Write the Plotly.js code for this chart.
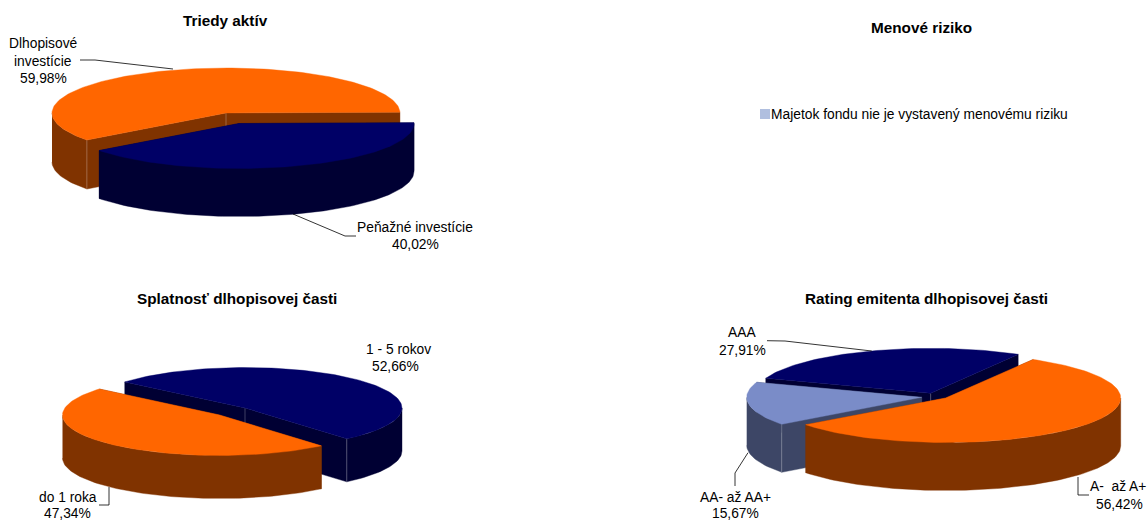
<!DOCTYPE html>
<html><head><meta charset="utf-8">
<script src="https://cdn.plot.ly/plotly-3.0.0.min.js"></script>
<style>html,body{margin:0;padding:0;background:#fff}#c{width:1147px;height:521px}</style>
</head><body><div id="c"></div>
<script>
// ---- data ----
const assetNames = ["Dlhopisové investície", "Peňažné investície"];
const assetValues = [59.98, 40.02];
const maturityNames = ["1 - 5 rokov", "do 1 roka"];
const maturityValues = [52.66, 47.34];
const ratingNames = ["A-\u00A0 až A+", "AAA", "AA- až AA+"];
const ratingValues = [56.42, 27.91, 15.67];
const currencyNote = "Majetok fondu nie je vystavený menovému riziku";
const titles = ["Triedy aktív", "Menové riziko", "Splatnosť dlhopisovej časti", "Rating emitenta dlhopisovej časti"];

// ---- styles ----
const ORANGE = {top:"#FF6600", side:"#803300"};
const NAVY   = {top:"#000066", side:"#000033"};
const PERI   = {top:"#7A8CC8", side:"#3D4666"};
const FONT = "Liberation Sans, Arial, sans-serif";
const SEAM = "rgba(255,255,255,0.35)";

// ---- geometry: angles run counter-clockwise from 3 o'clock, in screen space ----
const deg = Math.PI/180;
function pt(c, a, dy){ return [c.x + c.rx*Math.cos(a*deg), c.y - c.ry*Math.sin(a*deg) + (dy||0)]; }
function arc(c, a0, a1, dy){
  const n = Math.max(2, Math.ceil(Math.abs(a1-a0)/1.5)), out = [];
  for(let i=0;i<=n;i++) out.push(pt(c, a0+(a1-a0)*i/n, dy));
  return out;
}
const traces = [];
function poly(points, color){
  traces.push({type:"scatter", mode:"lines", x:points.map(p=>p[0]), y:points.map(p=>p[1]),
    fill:"toself", fillcolor:color, line:{color:color, width:0.4}, hoverinfo:"skip", showlegend:false});
}
function stroke(points, color, width){
  traces.push({type:"scatter", mode:"lines", x:points.map(p=>p[0]), y:points.map(p=>p[1]),
    line:{color:color, width:width}, hoverinfo:"skip", showlegend:false});
}
// a = start angle, sweep = signed angle derived from the value
function slice(c, a, value, dir, col, depth, seams){
  const b = a + dir*value*3.6;
  const lo = Math.min(a,b), hi = Math.max(a,b);
  const ctr = [c.x,c.y], ctrD = [c.x,c.y+depth];
  // cut faces
  [a,b].forEach(t=>poly([ctr, pt(c,t), pt(c,t,depth), ctrD, ctr], col.side));
  // outer wall: front half only (angles where the rim faces the viewer)
  for(let k=-1;k<=2;k++){
    const f0 = 180+360*k, f1 = 360+360*k;
    const s = Math.max(lo,f0), e = Math.min(hi,f1);
    if(e>s) poly(arc(c,s,e,0).concat(arc(c,e,s,depth)), col.side);
  }
  (seams||[]).forEach(w=>{
    const t = w==="start"?a:b;
    if(w==="center") stroke([ctr,ctrD],SEAM,0.7);
    else stroke([pt(c,t),pt(c,t,depth)],SEAM,0.7);
  });
  poly([ctr].concat(arc(c,a,b,0)).concat([ctr]), col.top);
}

// Triedy aktív
slice({x:226,y:113,rx:174,ry:45}, 1, assetValues[0], 1, ORANGE, 49, ["end","center"]);
slice({x:239,y:123.5,rx:175,ry:45}, 1+assetValues[0]*3.6, assetValues[1], 1, NAVY, 48);

// Splatnosť
slice({x:245,y:408,rx:157,ry:40.5}, 140, maturityValues[0], -1, NAVY, 43, ["end","center"]);
slice({x:219.5,y:415,rx:157,ry:40.5}, 140, maturityValues[1], 1, ORANGE, 43);

// Rating
slice({x:930.7,y:393.3,rx:175,ry:45}, 60, ratingValues[1], 1, NAVY, 48, ["center"]);
slice({x:921.7,y:397.3,rx:175,ry:45}, 60+ratingValues[1]*3.6, ratingValues[2], 1, PERI, 48, ["end"]);
slice({x:945.7,y:398,rx:175,ry:44.5}, 60, ratingValues[0], -1, ORANGE, 48);

// leader lines
[
 [[80,60],[95,60],[173,69]],
 [[293,214],[345,236],[356,236]],
 [[109,487],[109,505],[99,505]],
 [[767,340.7],[785,341],[871.7,351]],
 [[748,452.7],[735,473],[735,486]],
 [[1078,477],[1078,495],[1089,495]]
].forEach(l=>stroke(l,"#000",0.8));

// legend swatch for the currency panel
traces.push({type:"scatter", mode:"markers", x:[765], y:[114], name:currencyNote,
  marker:{symbol:"square", size:10, color:"#B0BFDF"}, hoverinfo:"name", showlegend:false});

// ---- text ----
const pct = v => v.toFixed(2).replace(".",",") + "%";
function txt(x,y,text,opt){
  return Object.assign({xref:"x",yref:"y",x:x,y:y,text:text,showarrow:false,xanchor:"center",yanchor:"middle",
    font:{family:FONT,size:13.8,color:"#000"}}, opt||{});
}
const bold = {font:{family:FONT,size:15.3,color:"#000"}};
const annotations = [
  txt(225.5,20,"<b>"+titles[0]+"</b>",bold),
  txt(921.5,27,"<b>"+titles[1]+"</b>",bold),
  txt(237,298,"<b>"+titles[2]+"</b>",bold),
  txt(926.7,298,"<b>"+titles[3]+"</b>",bold),
  txt(769,114,currencyNote,{xanchor:"left"}),
  txt(43,43,"Dlhopisové"),
  txt(43,61,"investície"),
  txt(43,78,pct(assetValues[0])),
  txt(415,227,assetNames[1]),
  txt(415,244.5,pct(assetValues[1])),
  txt(398,349,maturityNames[0]),
  txt(395.7,366.7,pct(maturityValues[0])),
  txt(67.7,497,maturityNames[1]),
  txt(67.7,513.5,pct(maturityValues[1])),
  txt(741.7,332,ratingNames[1]),
  txt(742,350,pct(ratingValues[1])),
  txt(735,497,ratingNames[2]),
  txt(735,513.5,pct(ratingValues[2])),
  txt(1118.3,486,ratingNames[0]),
  txt(1119,504,pct(ratingValues[0]))
];

const hidden = {visible:false, fixedrange:true, zeroline:false, showgrid:false};
Plotly.newPlot("c", traces, {
  width:1147, height:521, margin:{l:0,r:0,t:0,b:0},
  paper_bgcolor:"#fff", plot_bgcolor:"#fff", showlegend:false, hovermode:false,
  xaxis:Object.assign({range:[0,1147]},hidden),
  yaxis:Object.assign({range:[521,0]},hidden),
  annotations:annotations
}, {displayModeBar:false, staticPlot:true});
</script></body></html>
